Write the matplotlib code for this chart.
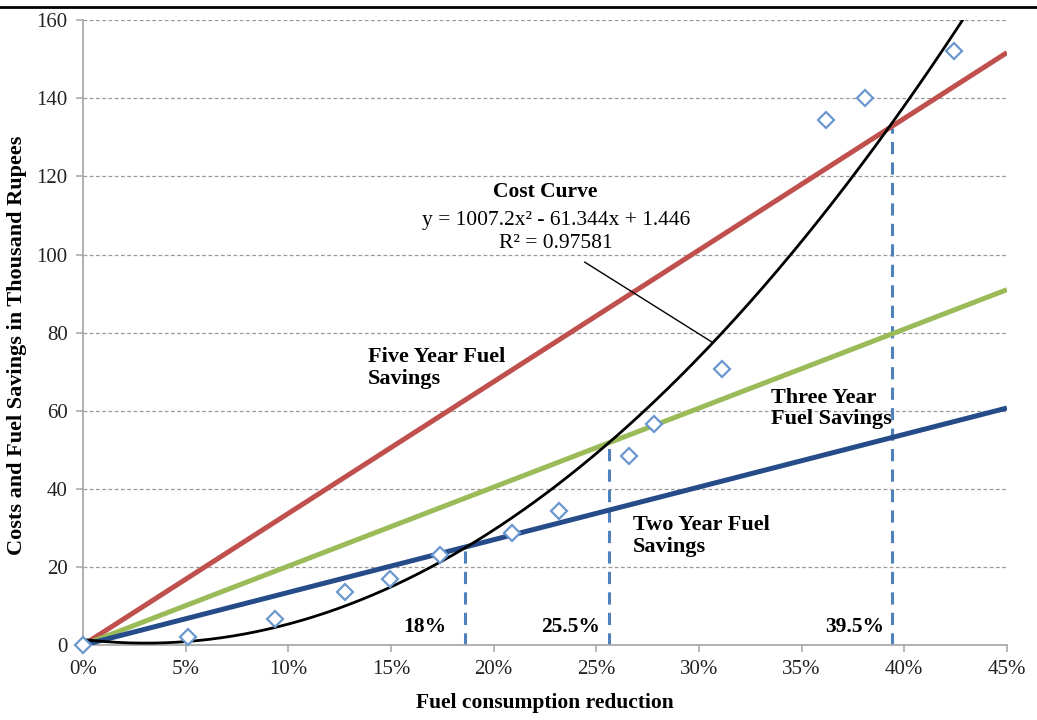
import numpy as np
import matplotlib
matplotlib.use("Agg")
import matplotlib.pyplot as plt
from matplotlib.lines import Line2D

plt.rcParams['font.family'] = ['Liberation Serif', 'DejaVu Serif']

# observed cost points (fuel reduction as fraction, cost in thousand rupees)
cost_x = [0.0, 0.051, 0.0935, 0.1276, 0.1495, 0.174, 0.209, 0.232, 0.266, 0.278, 0.311, 0.362, 0.381, 0.424]
cost_y = [0.0, 2.0, 6.6, 13.6, 17.0, 23.0, 28.7, 34.3, 48.4, 56.6, 70.7, 134.4, 140.0, 152.0]

# trendline coefficients shown on the chart
trend_coef = [1007.2, -61.344, 1.446]

# fuel savings lines (endpoints)
save_x = [0.0, 0.45]
two_year = [0.0, 60.7]
three_year = [0.0, 91.0]
five_year = [0.0, 151.7]

# break-even markers
breakeven_x = [0.186, 0.256, 0.394]
breakeven_y = [25.1, 52.2, 132.5]
breakeven_lbl = ['18%', '25.5%', '39.5%']

fig = plt.figure(figsize=(10.37, 7.2), dpi=100)
ax = fig.add_axes([0.080, 0.104, 0.891, 0.868])

ax.set_xlim(0, 0.45)
ax.set_ylim(0, 160)
ticks_x = np.arange(0, 0.451, 0.05)
ax.set_xticks(ticks_x)
ax.set_xticklabels([f'{int(round(v * 100))}%' for v in ticks_x])
ax.set_yticks(np.arange(0, 161, 20))
ax.yaxis.grid(True, linestyle=(0, (3, 2)), color='#999999', linewidth=0.9)
ax.set_axisbelow(True)

for s in ['top', 'right']:
    ax.spines[s].set_visible(False)
for s in ['left', 'bottom']:
    ax.spines[s].set_color('#aaaaaa')
    ax.spines[s].set_linewidth(1.3)
ax.tick_params(axis='both', colors='#aaaaaa', length=5, width=1.2, labelsize=15,
               labelcolor='#222222', pad=6)

ax.plot(save_x, five_year, color='#C0504D', lw=3.6, solid_capstyle='butt', zorder=3)
ax.plot(save_x, three_year, color='#9BBB59', lw=3.6, solid_capstyle='butt', zorder=3)
ax.plot(save_x, two_year, color='#254C89', lw=3.6, solid_capstyle='butt', zorder=3)

xs = np.linspace(0, 0.45, 400)
ax.plot(xs, np.polyval(trend_coef, xs), color='black', lw=2, zorder=4)

ax.plot(cost_x, cost_y, linestyle='none', marker='D', markersize=8.5, markerfacecolor='white',
        markeredgecolor='#6A97CF', markeredgewidth=1.6, zorder=5, clip_on=False)

label_gap = [0.009, 0.004, 0.004]
for bx, by, lbl, gap in zip(breakeven_x, breakeven_y, breakeven_lbl, label_gap):
    ax.plot([bx, bx], [0, by], color='#4F81BD', lw=2.2, linestyle=(0, (4, 2.7)), zorder=2)
    ax.text(bx - gap, 2.2, lbl, ha='right', va='bottom', fontsize=15.5, fontweight='bold')

ax.text(0.1388, 71.0, 'Five Year Fuel\nSavings', fontsize=16, fontweight='bold',
        ha='left', va='center', linespacing=1.1)
ax.text(0.3351, 60.6, 'Three Year\nFuel Savings', fontsize=16, fontweight='bold',
        ha='left', va='center', linespacing=1.1)
ax.text(0.2679, 27.9, 'Two Year Fuel\nSavings', fontsize=16, fontweight='bold',
        ha='left', va='center', linespacing=1.1)

ax.text(0.2249, 116.0, 'Cost Curve', fontsize=15.5, fontweight='bold', ha='center', va='center')
ax.text(0.2304, 108.8, 'y = 1007.2x² - 61.344x + 1.446', fontsize=15.5, ha='center', va='center')
ax.text(0.2304, 102.7, 'R² = 0.97581', fontsize=15.5, ha='center', va='center')
ax.plot([0.2444, 0.3063], [98.05, 77.6], color='black', lw=1, zorder=4)

ax.set_xlabel('Fuel consumption reduction', fontsize=15.5, fontweight='bold', labelpad=10)
ax.set_ylabel('Costs and Fuel Savings in Thousand Rupees', fontsize=16, fontweight='bold')
ax.yaxis.set_label_coords(-0.0605, 0.48)

fig.add_artist(Line2D([0, 1], [0.99, 0.99], transform=fig.transFigure, color='black', lw=2))

fig.savefig('out.png', dpi=100)
